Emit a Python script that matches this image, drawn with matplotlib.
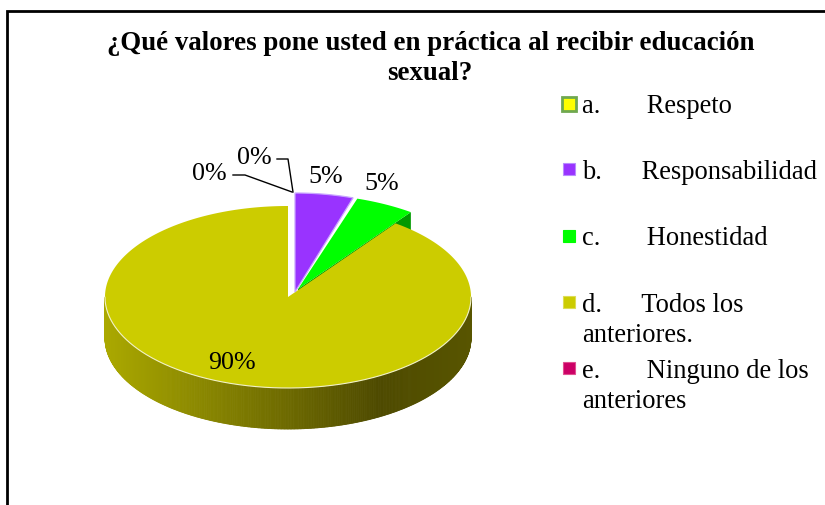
import numpy as np
import matplotlib
matplotlib.use("Agg")
import matplotlib.pyplot as plt
from matplotlib.patches import Polygon, Rectangle
from matplotlib.collections import PolyCollection

plt.rcParams['font.family'] = ['Liberation Serif', 'DejaVu Serif']

title_lines = ["¿Qué valores pone usted en práctica al recibir educación", "sexual?"]
categories = [["a.       Respeto"], ["b.      Responsabilidad"], ["c.       Honestidad"],
              ["d.      Todos los", "anteriores."], ["e.       Ninguno de los", "anteriores"]]
values = [0, 5, 5, 90, 0]
pct_labels = ["0%", "5%", "5%", "90%", "0%"]
colors = ["#FFFF00", "#9933FF", "#00FF00", "#CCCC00", "#CC0066"]
legend_edges = ["#6FA84F", "#B98CFF", "#00FF00", "#DDDD55", "#E05090"]
side_colors = ["#999900", "#6A22B0", "#009900", "#A8A800", "#880044"]

W, H = 825, 506
fig = plt.figure(figsize=(W/100, H/100), dpi=100, facecolor="white")
ax = fig.add_axes([0, 0, 1, 1])
ax.set_xlim(0, W); ax.set_ylim(H, 0); ax.axis("off")

# chart frame
ax.add_patch(Rectangle((7, 12), 860, 600, fc="white", ec="black", lw=2.0, clip_on=True))

# slice geometry: (cx, cy, rx, ry) for each slice, exploded slices have their own centre
geom = {1: (295, 293, 188, 99), 2: (298, 290, 192, 95), 3: (288, 298, 183, 91)}
depth = 41
total = sum(values)
edges = np.cumsum([0] + values) / total * 2 * np.pi

def arc(i, n=200):
    cx, cy, rx, ry = geom[i]
    t = np.linspace(edges[i], edges[i+1], n)
    return cx + rx*np.sin(t), cy - ry*np.cos(t)

def mix(t):
    stops_x = [0.0, 0.75, 1.0]
    c0 = np.array([[0xAB, 0xA9, 0x00], [0x4E, 0x4A, 0x00], [0x58, 0x55, 0x00]]) / 255
    return [np.interp(t, stops_x, c0[:, k]) for k in range(3)]

# green slice: inner wall and rim, drawn behind the main slice
i = 2
x, y = arc(i)
cx, cy, _, _ = geom[i]
ax.add_patch(Polygon([(cx, cy), (x[-1], y[-1]), (x[-1], y[-1]+depth), (cx, cy+depth)],
                     fc=side_colors[i], ec="none", zorder=2))
ax.add_patch(Polygon(np.r_[[[cx, cy]], np.c_[x, y]], fc=colors[i], ec="none", zorder=3))

# main slice: rim with a left-to-right gradient, then the top face
i = 3
x, y = arc(i, 720)
cx, cy, rx, ry = geom[i]
front = np.where(y >= cy)[0]
order = front[np.argsort(x[front])]
fx, fy = x[order], y[order]
strips = [[(fx[k], fy[k]), (fx[k+1], fy[k+1]), (fx[k+1], fy[k+1]+depth), (fx[k], fy[k]+depth)]
          for k in range(len(fx)-1)]
shades = [mix((fx[k]-fx[0])/(fx[-1]-fx[0])) for k in range(len(fx)-1)]
ax.add_collection(PolyCollection(strips, facecolors=shades, edgecolors=shades, lw=0.6, zorder=4))
ax.add_patch(Polygon(np.r_[[[cx, cy]], np.c_[x, y]], fc=colors[i], ec="none", zorder=5))
fr = y >= cy
ax.plot(np.where(fr, x, np.nan), y, color="#F2F2C8", lw=0.8, zorder=6)

# purple slice
i = 1
x, y = arc(i)
cx, cy, _, _ = geom[i]
ax.add_patch(Polygon(np.r_[[[cx, cy]], np.c_[x, y]], fc=colors[i], ec="#C9A6FF", lw=0.9, zorder=7))

# data labels
fs = 18.7
label_pos = {0: (209, 174), 1: (326, 177), 2: (382, 184), 3: (232, 363), 4: (254, 158)}
for i, p in label_pos.items():
    ax.text(p[0], p[1], pct_labels[i], ha="center", va="center", fontsize=fs, zorder=9)

# leader lines
ax.plot([233, 245, 292], [176, 176, 193], color="black", lw=1.0, zorder=9)
ax.plot([277, 288, 293], [160, 160, 193], color="black", lw=1.0, zorder=9)

# title
ax.text(431, 50, title_lines[0], ha="center", va="baseline", fontsize=19.4, fontweight="bold")
ax.text(430, 80, title_lines[1], ha="center", va="baseline", fontsize=19.4, fontweight="bold")

# legend
legend_y = [104.5, 170, 236.5, 303, 369]
for i, ly in enumerate(legend_y):
    lw = 2 if i == 0 else 0.8
    s = 12 if i else 14
    ax.add_patch(Rectangle((569-s/2, ly-s/2), s, s, fc=colors[i], ec=legend_edges[i], lw=lw, zorder=8))
    for j, line in enumerate(categories[i]):
        ax.text(582, ly+8.5+31*j, line, ha="left", va="baseline", fontsize=19.1, zorder=8)

fig.savefig("out.png", dpi=100, facecolor="white")
